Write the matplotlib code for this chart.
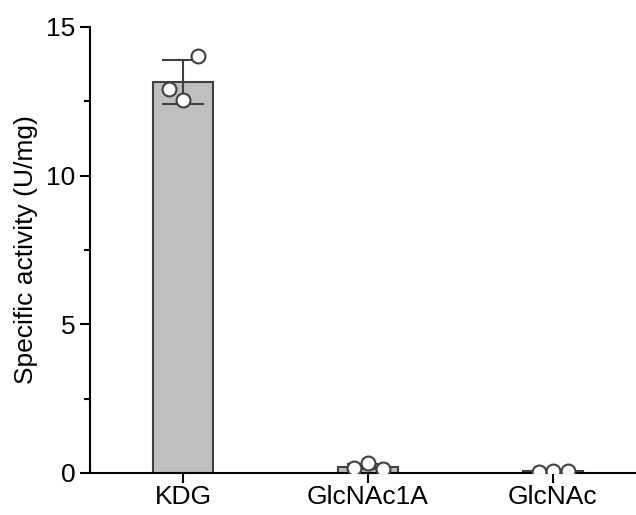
import numpy as np
import matplotlib.pyplot as plt

plt.rcParams['font.family'] = ['Liberation Sans', 'DejaVu Sans']

categories = ['KDG', 'GlcNAc1A', 'GlcNAc']
replicates = [
    [12.92, 12.55, 14.03],
    [0.17, 0.33, 0.15],
    [0.04, 0.05, 0.07],
]
means = [13.15, 0.21, 0.05]
errs = [0.74, 0.08, 0.02]

fig = plt.figure(figsize=(6.36, 5.15), dpi=100)
ax = fig.add_axes([0.1415, 0.0816, 0.8585, 0.866])

x = np.arange(len(categories))
ax.bar(x, means, width=0.325, color='#bfbfbf', edgecolor='#404040', linewidth=1.5, zorder=1)
ax.errorbar(x, means, yerr=errs, fmt='none', ecolor='#404040', elinewidth=1.5,
            capsize=15, capthick=1.5, zorder=2)
offsets = [-0.075, 0.0, 0.08]
for i, vals in enumerate(replicates):
    ax.plot([x[i] + o for o in offsets], vals, 'o', ms=10, mfc='white', mec='#404040',
            mew=1.5, zorder=3, linestyle='none')

ax.set_xlim(-0.503, 2.45)
ax.set_ylim(0, 15)
ax.set_yticks([0, 5, 10, 15])
ax.set_yticks([2.5, 7.5, 12.5], minor=True)
ax.set_xticks(x)
ax.set_xticklabels(categories)
ax.set_ylabel('Specific activity (U/mg)', fontsize=19, labelpad=6)
ax.tick_params(axis='both', labelsize=19, width=1.5, length=7, color='#000000')
ax.tick_params(axis='x', pad=2)
ax.tick_params(axis='y', which='minor', width=1.5, length=4)
for s in ['top', 'right']:
    ax.spines[s].set_visible(False)
for s in ['left', 'bottom']:
    ax.spines[s].set_linewidth(1.5)

fig.savefig('out.png', dpi=100)
